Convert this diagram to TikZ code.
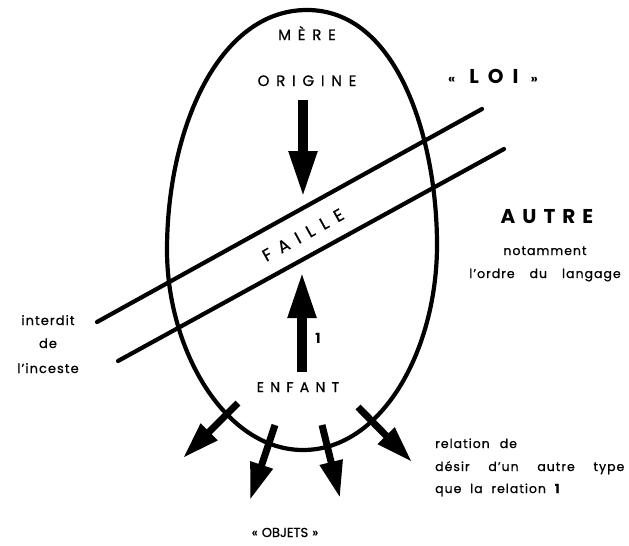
\documentclass[tikz,border=0pt]{standalone}
\usepackage{fontspec}
\setmainfont{Poppins}
\usetikzlibrary{arrows.meta}
\newcommand\fsz[1]{\fontsize{#1}{#1}\selectfont}
\newcommand\trk[1]{\addfontfeature{LetterSpace=#1}}
\newcommand\heavy{\addfontfeature{FakeBold=0.8}}
\begin{document}
\begin{tikzpicture}[x=1pt,y=-1pt,
  egg/.style={line width=4.2pt},
  bandline/.style={line width=4.2pt, line cap=round},
  bigarrow/.style={line width=10.5pt, -{Triangle[length=47pt,width=26pt]}},
  smallarrow/.style={line width=7pt, -{Triangle[length=37pt,width=22pt]}},
  lbl/.style={inner sep=0pt, anchor=base},
  lbll/.style={inner sep=0pt, anchor=base west}]
\useasboundingbox (0,0) rectangle (629,546);
% egg
\draw[egg] (307,10) .. controls (398,10) and (437,140) .. (437,245)
  .. controls (437,350) and (382,450) .. (303,450)
  .. controls (225,450) and (167,350) .. (167,250)
  .. controls (167,130) and (218,10) .. (307,10) -- cycle;
% band
\coordinate (u1) at (97,322);
\coordinate (u2) at (482,109);
\coordinate (l1) at (118,361);
\coordinate (l2) at (504,149);
\draw[bandline] (u1) -- (u2);
\draw[bandline] (l1) -- (l2);
% main arrows
\coordinate (dTail) at (303,100);
\coordinate (dTip) at (303,198);
\coordinate (uTail) at (302,372);
\coordinate (uTip) at (302,271);
\draw[bigarrow] (dTail) -- (dTip);
\draw[bigarrow] (uTail) -- (uTip);
% object arrows
\coordinate (a1) at (238,403); \coordinate (b1) at (183,458);
\coordinate (a2) at (275,425); \coordinate (b2) at (250,500);
\coordinate (a3) at (322,425); \coordinate (b3) at (340,498);
\coordinate (a4) at (358,407); \coordinate (b4) at (412,462);
\foreach \i in {1,2,3,4} \draw[smallarrow] (a\i) -- (b\i);
% labels
\node[lbl] (mere) at (307,40) {\fsz{15}\heavy\trk{45}MÈRE};
\node[lbl] (origine) at (307,86) {\fsz{15}\heavy\trk{45}ORIGINE};
\node[lbl] (loi) at (493,83) {{\fsz{13}\bfseries«}\hspace{14pt}{\fsz{20}\bfseries\trk{45}LOI}\hspace{12pt}{\fsz{13}\bfseries»}};
\node[inner sep=0pt, rotate=29] (faille) at (303,235) {\fsz{17}\heavy\trk{50}FAILLE};
\node[lbl] (autre) at (547,223) {\fsz{20}\bfseries\trk{35}AUTRE};
\node[lbl] (notamment) at (545,255) {\fsz{12.5}\heavy\trk{8}notamment};
\node[lbl] (ordre) at (545,278) {\fsz{12.5}\heavy\trk{8}l'ordre\hspace{1.2em}du\hspace{1.2em}langage};
\node[lbl] (interdit) at (48,325) {\fsz{13}\heavy\trk{8}interdit};
\node[lbl] (de) at (48,348) {\fsz{13}\heavy\trk{8}de};
\node[lbl] (inceste) at (48,373) {\fsz{13}\heavy\trk{8}l'inceste};
\node[lbl] (un) at (318,343) {\fsz{14}\bfseries 1};
\node[lbl] (enfant) at (298,392) {\fsz{14}\heavy\trk{45}ENFANT};
\node[lbl] (objets) at (285,537) {\fsz{13}\heavy«\hspace{4pt}OBJETS\hspace{4pt}»};
\node[lbll] (rel1) at (435,448) {\fsz{12.5}\heavy\trk{8}relation\hspace{0.8em}de};
\node[lbll] (rel2) at (435,471) {\fsz{12.5}\heavy\trk{8}désir\hspace{1.5em}d'un\hspace{1.5em}autre\hspace{1.5em}type};
\node[lbll] (rel3) at (435,493) {\fsz{12.5}\heavy\trk{8}que\hspace{0.7em}la\hspace{0.7em}relation\hspace{0.7em}{\bfseries 1}};
\end{tikzpicture}
\end{document}
